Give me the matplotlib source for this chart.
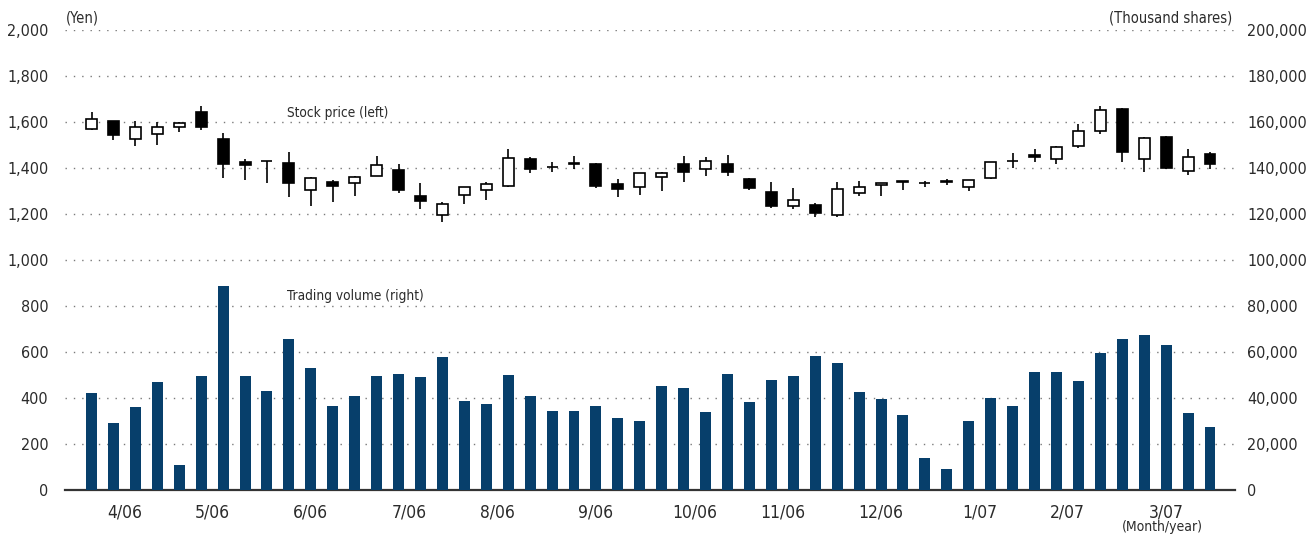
import matplotlib
matplotlib.use("Agg")
import matplotlib.pyplot as plt
from matplotlib import font_manager
import numpy as np

# ---- data (weekly, April 2006 - March 2007) ----
opens = [1568, 1603, 1525, 1546, 1577, 1643, 1526, 1426, 1431, 1422,
         1306, 1338, 1336, 1367, 1391, 1278, 1197, 1281, 1304, 1320,
         1439, 1403, 1423, 1417, 1330, 1316, 1362, 1417, 1396, 1417,
         1352, 1296, 1233, 1238, 1194, 1290, 1325, 1339, 1333, 1345,
         1316, 1355, 1430, 1457, 1439, 1497, 1559, 1657, 1441, 1535,
         1387, 1461]
highs = [1643, 1605, 1603, 1600, 1600, 1670, 1552, 1439, 1431, 1470,
         1360, 1348, 1364, 1452, 1417, 1335, 1251, 1318, 1339, 1483,
         1448, 1426, 1452, 1422, 1352, 1380, 1383, 1452, 1448, 1457,
         1357, 1339, 1313, 1246, 1339, 1343, 1335, 1343, 1342, 1352,
         1348, 1427, 1465, 1483, 1496, 1591, 1670, 1659, 1534, 1539,
         1483, 1470]
lows = [1566, 1522, 1497, 1501, 1557, 1567, 1357, 1348, 1336, 1275,
        1236, 1254, 1280, 1365, 1293, 1223, 1167, 1245, 1262, 1318,
        1380, 1383, 1397, 1314, 1275, 1284, 1301, 1341, 1367, 1367,
        1306, 1228, 1223, 1188, 1188, 1278, 1280, 1306, 1316, 1328,
        1301, 1353, 1400, 1428, 1419, 1488, 1549, 1428, 1384, 1397,
        1371, 1397]
closes = [1612, 1545, 1577, 1577, 1594, 1580, 1419, 1415, 1429, 1336,
          1358, 1323, 1362, 1412, 1303, 1258, 1242, 1316, 1329, 1443,
          1396, 1403, 1416, 1323, 1310, 1377, 1380, 1384, 1432, 1384,
          1314, 1236, 1262, 1203, 1309, 1316, 1333, 1343, 1333, 1337,
          1346, 1425, 1430, 1450, 1490, 1559, 1651, 1471, 1532, 1401,
          1448, 1419]
volumes = [42200, 29100, 36100, 47000, 10900, 49600, 88700, 49600, 43000, 65700,
           53000, 36500, 40900, 49600, 50400, 49100, 57800, 38700, 37400, 50000,
           40900, 34300, 34300, 36500, 31300, 30000, 45200, 44300, 33900, 50400,
           38300, 47800, 49600, 58300, 55200, 42600, 39600, 32600, 13900, 9100,
           30000, 40000, 36500, 51300, 51300, 47400, 59600, 65700, 67400, 63000,
           33500, 27400]
month_labels = ['4/06', '5/06', '6/06', '7/06', '8/06', '9/06', '10/06',
                '11/06', '12/06', '1/07', '2/07', '3/07']
weeks_per_month = [4, 4, 5, 4, 4, 5, 4, 4, 5, 4, 4, 5]
price_ticks = [0, 200, 400, 600, 800, 1000, 1200, 1400, 1600, 1800, 2000]
volume_ticks = [0, 20000, 40000, 60000, 80000, 100000, 120000, 140000,
                160000, 180000, 200000]

# ---- font: prefer a condensed face ----
available = {f.name for f in font_manager.fontManager.ttflist}
family = 'DejaVu Sans'
for cand in ['Liberation Sans Narrow', 'DejaVu Sans Condensed']:
    if cand in available:
        family = cand
        break
plt.rcParams['font.family'] = [family, 'DejaVu Sans']
plt.rcParams['font.stretch'] = 'condensed'

# ---- figure ----
fig = plt.figure(figsize=(13.07, 5.34), dpi=100)
ax = fig.add_axes([65 / 1307, 1 - 490 / 534, (1235 - 65) / 1307, 460 / 534])
ax2 = ax.twinx()

x = np.arange(len(opens))
o = np.array(opens); c = np.array(closes)
h = np.array(highs); l = np.array(lows)
v = np.array(volumes)

bar_color = '#073f6b'
text_color = '#2b2b2b'

# volume bars
ax2.bar(x, v, width=0.5, color=bar_color, zorder=2)

# candlesticks
ax.vlines(x, l, h, color='black', linewidth=1.2, zorder=3)
up = c >= o
body_bottom = np.minimum(o, c)
body_height = np.abs(c - o)
ax.bar(x[up], body_height[up], bottom=body_bottom[up], width=0.5,
       facecolor='white', edgecolor='black', linewidth=1.2, zorder=4)
ax.bar(x[~up], body_height[~up], bottom=body_bottom[~up], width=0.5,
       facecolor='black', edgecolor='black', linewidth=1.2, zorder=4)

# axes limits
ax.set_xlim(-1.21, 52.14)
ax.set_ylim(0, 2000)
ax2.set_ylim(0, 200000)

# gridlines
for t in price_ticks[1:]:
    ax.axhline(t, color='#7a7a7a', linestyle=(0, (1, 5)), linewidth=1.0, zorder=1)

# spines
for a in (ax, ax2):
    for s in ('top', 'right', 'left', 'bottom'):
        a.spines[s].set_visible(False)
ax.axhline(0, color='#333333', linewidth=1.6, zorder=5, clip_on=False)

# ticks
ax.set_yticks(price_ticks)
ax.set_yticklabels([f'{t:,}' for t in price_ticks])
ax2.set_yticks(volume_ticks)
ax2.set_yticklabels([f'{t:,}' for t in volume_ticks])
starts = np.cumsum([0] + weeks_per_month[:-1])
centers = starts + (np.array(weeks_per_month) - 1) / 2
ax.set_xticks(centers)
ax.set_xticklabels(month_labels)
ax.tick_params(axis='y', length=0, pad=12, labelsize=11.5, labelcolor=text_color)
ax2.tick_params(axis='y', length=0, pad=9, labelsize=11.5, labelcolor=text_color)
ax.tick_params(axis='x', length=0, pad=10, labelsize=12.5, labelcolor=text_color)

# annotations
fig.text(66 / 1307, 1 - 18 / 534, '(Yen)', fontsize=10.5, color=text_color,
         ha='left', va='center')
fig.text(1232 / 1307, 1 - 18 / 534, '(Thousand shares)', fontsize=10.5,
         color=text_color, ha='right', va='center')
fig.text(1162 / 1307, 1 - 527 / 534, '(Month/year)', fontsize=10,
         color=text_color, ha='center', va='center')
fig.text(287 / 1307, 1 - 113 / 534, 'Stock price (left)', fontsize=9.8,
         color=text_color, ha='left', va='center')
fig.text(287 / 1307, 1 - 296 / 534, 'Trading volume (right)', fontsize=9.8,
         color=text_color, ha='left', va='center')

fig.savefig('out.png', dpi=100)
